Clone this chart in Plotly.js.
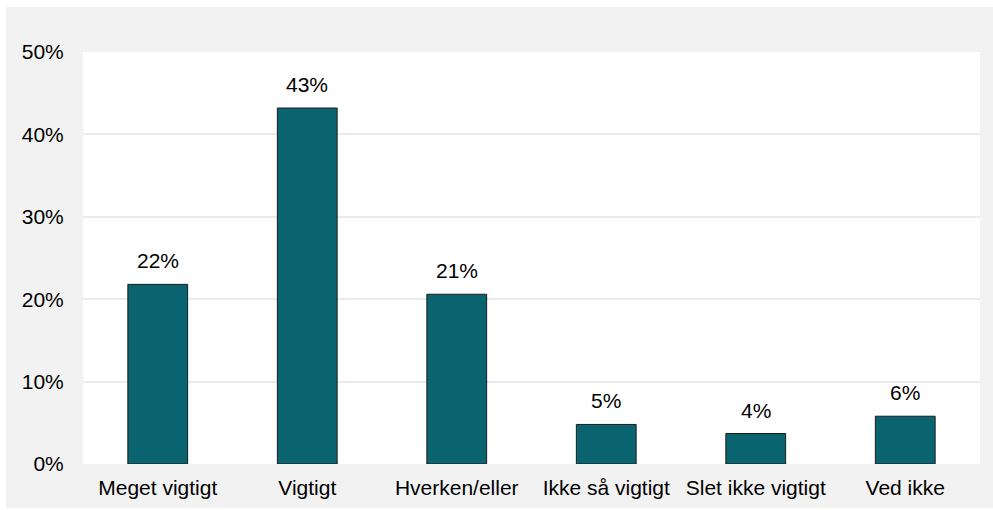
<!DOCTYPE html>
<html>
<head>
<meta charset="utf-8">
<script src="https://cdn.plot.ly/plotly-3.0.1.min.js"></script>
<style>
html,body{margin:0;padding:0;background:#ffffff;}
#chart{position:absolute;left:6px;top:7px;width:987px;height:501px;}
</style>
</head>
<body>
<div id="chart"></div>
<script>
const categories = ["Meget vigtigt", "Vigtigt", "Hverken/eller", "Ikke så vigtigt", "Slet ikke vigtigt", "Ved ikke"];
const values = [21.8, 43.2, 20.6, 4.8, 3.7, 5.8];
const labels = ["22%", "43%", "21%", "5%", "4%", "6%"];
const yTickVals = [0, 10, 20, 30, 40, 50];
const yTickText = ["0%", "10%", "20%", "30%", "40%", "50%"];

const font = {family: "Liberation Sans, Arial, sans-serif", size: 21, color: "#000000"};

const trace = {
  type: "bar",
  x: categories,
  y: values,
  marker: {color: "#0a6470", line: {color: "#1c1c1c", width: 1}},
  width: 0.4,
  hoverinfo: "none"
};

const annotations = categories.map((c, i) => ({
  x: c, y: values[i], xref: "x", yref: "y",
  text: labels[i], showarrow: false,
  yanchor: "bottom", yshift: 10,
  font: font
}));

const layout = {
  paper_bgcolor: "#f2f2f2",
  plot_bgcolor: "#ffffff",
  margin: {l: 77, r: 13, t: 45, b: 44},
  showlegend: false,
  font: font,
  xaxis: {
    type: "category",
    showgrid: false, zeroline: false, showline: false,
    ticks: "outside", ticklen: 5, tickcolor: "rgba(0,0,0,0)",
    tickfont: font
  },
  yaxis: {
    range: [0, 50],
    tickvals: yTickVals, ticktext: yTickText,
    showgrid: true, gridcolor: "#ebebeb", gridwidth: 2,
    zeroline: false, showline: false,
    ticks: "outside", ticklen: 14, tickcolor: "rgba(0,0,0,0)",
    tickfont: font
  },
  annotations: annotations
};

Plotly.newPlot("chart", [trace], layout, {displayModeBar: false, staticPlot: true});
</script>
</body>
</html>
